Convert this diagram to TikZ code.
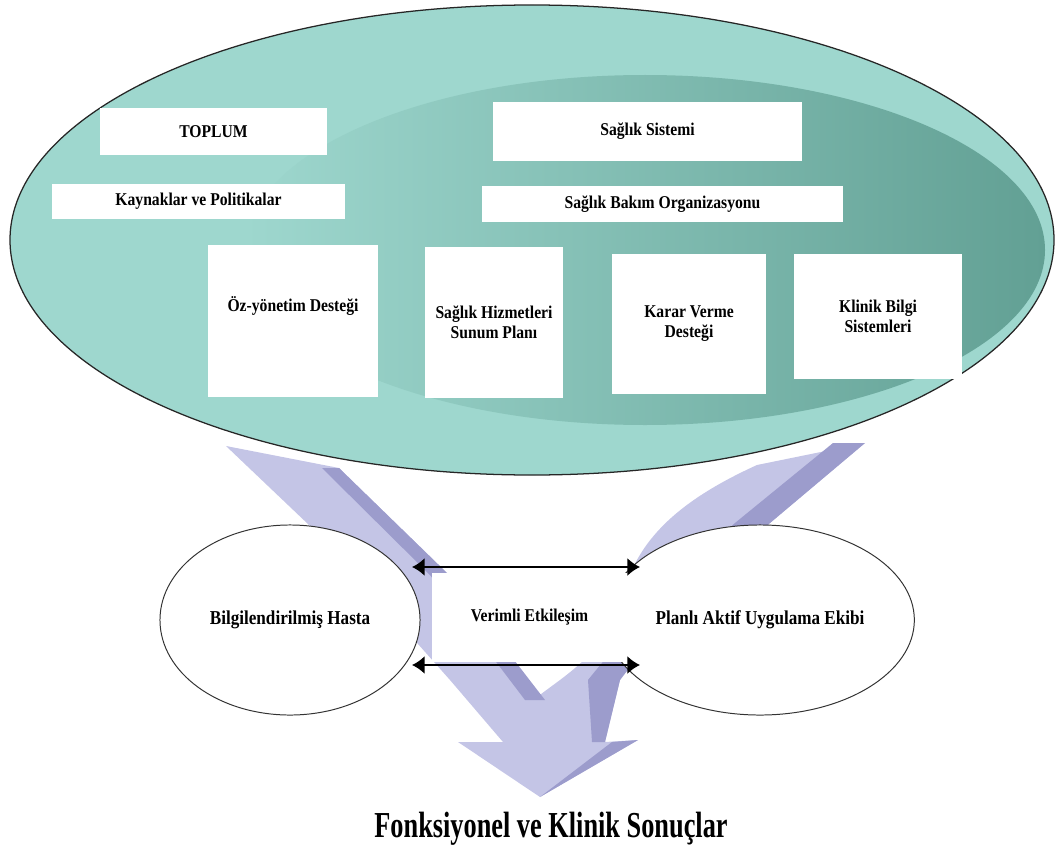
\documentclass[tikz,border=0pt]{standalone}
\usepackage{fontspec}
\setmainfont{Liberation Serif}[FakeStretch=0.87]
\newfontfamily\baslikfont{Liberation Serif}[FakeStretch=0.72]
\usetikzlibrary{shapes.geometric, arrows.meta}
\definecolor{acikturkuaz}{RGB}{158,215,206}
\definecolor{koyuturkuaz}{RGB}{98,160,148}
\definecolor{acikmor}{RGB}{196,197,230}
\definecolor{koyumor}{RGB}{156,156,204}
\tikzstyle{kutu} = [rectangle, fill=white, inner sep=2pt, align=center, text centered, font=\fontsize{12.8}{14.2}\selectfont\bfseries]
\tikzstyle{daire} = [ellipse, draw=black!80, line width=0.7pt, fill=white, align=center, text centered, font=\fontsize{14}{16}\selectfont\bfseries]
\tikzstyle{ciftok} = [line width=1.6pt, <->, >={Latex[length=9pt,width=13pt]}]

\begin{document}
\begin{tikzpicture}[x=0.025cm, y=-0.025cm]
\useasboundingbox (0,0) rectangle (1062,847);
% birlesen oklar
\fill[acikmor] (226,446) -- (339,468) -- (447,573) -- (537,697) -- (560,680)
  .. controls (600,650) and (610,630) .. (622,600)
  .. controls (635,540) and (680,500) .. (757,465) -- (865,443) -- (770,523)
  .. controls (700,585) and (650,640) .. (620,680) -- (605,742) -- (638,740)
  -- (540,797) -- (458,742) -- (503,742) -- (450,680) -- (330,545) -- cycle;
\fill[koyumor] (322,468) -- (339,468) -- (447,573) -- (545,700) -- (525,700) -- (430,575) -- cycle;
\fill[koyumor] (833,443) -- (865,443) -- (770,523)
  .. controls (700,585) and (650,640) .. (620,680) -- (605,742) -- (592,742) -- (588,680)
  .. controls (620,640) and (670,585) .. (735,523) -- cycle;
\fill[koyumor] (612,742) -- (638,740) -- (540,797) -- cycle;
% buyuk elips
\fill[acikturkuaz] (532,240) ellipse [x radius=522, y radius=235];
\begin{scope}
\clip (532,240) ellipse [x radius=522, y radius=235];
\shade[left color=acikturkuaz, right color=koyuturkuaz] (645,250) ellipse [x radius=400, y radius=175];
\end{scope}
\draw[black!85, line width=0.9pt] (532,240) ellipse [x radius=522, y radius=235];

\node (toplum) [kutu, minimum width=5.68cm, minimum height=1.18cm] at (213.5,131.5) {TOPLUM};
\node (kaynak) [kutu, minimum width=7.33cm, minimum height=0.88cm] at (198.5,201.5) {Kaynaklar ve Politikalar};
\node (sistem) [kutu, minimum width=7.73cm, minimum height=1.48cm] at (647.5,131.5) {Sağlık Sistemi};
\node (organ) [kutu, minimum width=9.03cm, minimum height=0.9cm] at (662.5,204) {Sağlık Bakım Organizasyonu};
\node (ozyonetim) [kutu, minimum width=4.25cm, minimum height=3.8cm, label={[font=\fontsize{12.8}{14.2}\selectfont\bfseries, yshift=11pt]center:Öz-yönetim Desteği}] at (293,321) {};
\node (hizmet) [kutu, minimum width=3.45cm, minimum height=3.78cm] at (494,322.5) {Sağlık Hizmetleri\\Sunum Planı};
\node (karar) [kutu, minimum width=3.85cm, minimum height=3.5cm] at (689,324) {Karar Verme\\Desteği};
\node (klinik) [kutu, minimum width=4.2cm, minimum height=3.13cm] at (878,316.5) {Klinik Bilgi\\Sistemleri};

\node (hasta) [daire, minimum width=6.5cm, minimum height=4.75cm] at (290,620) {Bilgilendirilmiş Hasta};
\node (ekip) [daire, minimum width=6.1cm, minimum height=4.75cm] at (760,620) {Planlı Aktif Uygulama Ekibi};
\node (verim) [kutu, minimum width=4.88cm, minimum height=2.23cm] at (529.5,617.5) {Verimli Etkileşim};

\coordinate (ustsol) at (412,567);
\coordinate (ustsag) at (640,567);
\coordinate (altsol) at (412,665);
\coordinate (altsag) at (640,665);
\draw [ciftok] (ustsol) -- (ustsag);
\draw [ciftok] (altsol) -- (altsag);

\node (sonuc) [anchor=base, font=\baslikfont\fontsize{26}{30}\selectfont\bfseries] at (551,837) {Fonksiyonel ve Klinik Sonuçlar};
\end{tikzpicture}
\end{document}
